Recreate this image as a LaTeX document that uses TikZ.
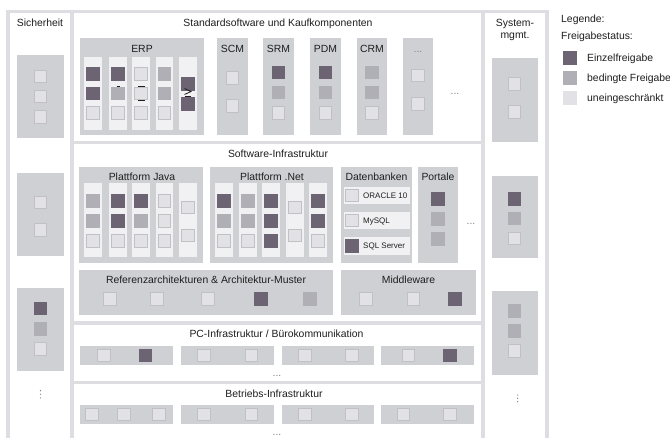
\documentclass[tikz,border=0pt]{standalone}
\usepackage{fontspec}
\setmainfont{Liberation Sans}
\definecolor{frm}{RGB}{221,221,226}
\definecolor{boxc}{RGB}{207,208,212}
\definecolor{colc}{RGB}{241,241,243}
\definecolor{dk}{RGB}{108,100,114}
\definecolor{md}{RGB}{176,175,181}
\definecolor{lt}{RGB}{226,226,230}
\definecolor{ltb}{RGB}{192,192,197}
\definecolor{tx}{RGB}{30,30,30}
\definecolor{dotc}{RGB}{130,130,135}
\tikzset{
  txt/.style={font=\fontsize{10.4}{12}\selectfont, text=tx, inner sep=0, anchor=base},
  smt/.style={font=\fontsize{8}{9}\selectfont, text=tx, inner sep=0, anchor=base west},
  dots/.style={font=\fontsize{10.4}{12}\selectfont, text=dotc, inner sep=0, anchor=base},
  qd/.style={fill=dk, draw=none, inner sep=0, minimum size=13.5pt},
  qm/.style={fill=md, draw=none, inner sep=0, minimum size=13.5pt},
  ql/.style={fill=lt, draw=ltb, line width=0.8pt, inner sep=0, minimum size=12.7pt},
  boxf/.style={fill=boxc},
  colf/.style={fill=colc},
  vdot/.style={circle, fill=dotc, inner sep=0, minimum size=1.4pt},
  artf/.style={draw=tx, line width=0.8pt}
}
\begin{document}
\begin{tikzpicture}[x=1pt,y=-1pt]
\useasboundingbox (0,0) rectangle (670,438);
\fill[white] (0,0) rectangle (670,438);
% frame and panels
\fill[frm] (6,10) rectangle (549,438);
\fill[white] (10,13) rectangle (70,438);
\fill[white] (74,13) rectangle (481,141);
\fill[white] (74,144) rectangle (481,321);
\fill[white] (74,325) rectangle (481,381);
\fill[white] (74,384) rectangle (481,438);
\fill[white] (485,13) rectangle (545,438);

% titles
\node[txt] (tsich) at (40,27) {Sicherheit};
\node[txt] (tstd) at (278,27) {Standardsoftware und Kaufkomponenten};
\node[txt] (tsys1) at (515,27) {System-};
\node[txt] (tsys2) at (515,39) {mgmt.};
\node[txt] (tsw) at (278,157.5) {Software-Infrastruktur};
\node[txt] (tpc) at (276.5,337.5) {PC-Infrastruktur / Bürokommunikation};
\node[txt] (tbe) at (274,397.5) {Betriebs-Infrastruktur};

% Sicherheit column
\fill[boxf] (17,55) rectangle (64,138);
\fill[boxf] (17,173) rectangle (64,256);
\fill[boxf] (17,288) rectangle (64,371);
\foreach \yy/\ss [count=\k] in {76.5/ql,96.5/ql,117/ql,202.5/ql,230/ql,308.7/qd,329/qm,349/ql}
  \node[\ss] (sich\k) at (40.5,\yy) {};
\foreach \yy [count=\k] in {390.7,394.3,398}
  \node[vdot] (sichv\k) at (40.5,\yy) {};

% Systemmgmt column
\fill[boxf] (492,58) rectangle (538,142);
\fill[boxf] (492,176) rectangle (538,258);
\fill[boxf] (492,291) rectangle (538,375);
\foreach \yy/\ss [count=\k] in {84/ql,112/ql,199/qd,218.5/qm,238.5/ql,311/qm,331/qm,351/ql}
  \node[\ss] (sys\k) at (514.5,\yy) {};
\foreach \yy [count=\k] in {395,398.3,401.7}
  \node[vdot] (sysv\k) at (517.7,\yy) {};

% ERP
\fill[boxf] (80,38) rectangle (204,135);
\node[txt] (terp) at (142,52.7) {ERP};
\foreach \xa/\xb in {84/102,109/127,132/150,156/173,179/197}
  \fill[colf] (\xa,57) rectangle (\xb,130);
\foreach \yy/\ss [count=\k] in {74/qd,93.5/qd,113/ql}
  \node[\ss] (erpa\k) at (93,\yy) {};
\foreach \yy/\ss [count=\k] in {74/qd,93.5/qm,113/ql}
  \node[\ss] (erpb\k) at (118,\yy) {};
\foreach \yy/\ss [count=\k] in {74/ql,93.5/ql,113/ql}
  \node[\ss] (erpc\k) at (141,\yy) {};
\foreach \yy/\ss [count=\k] in {74/qm,93.5/qm,113/ql}
  \node[\ss] (erpd\k) at (164.5,\yy) {};
\foreach \yy/\ss [count=\k] in {84/qd,104/qd}
  \node[\ss] (erpe\k) at (188,\yy) {};
% small marks visible in the ERP columns
\draw[artf] (116.5,86) -- (119.5,86);
\draw[artf] (138,86.3) -- (144.5,86.3);
\draw[artf] (138,100.7) -- (144.5,100.7);
\draw[artf] (184.5,88.5) -- (191,91.5) -- (184.5,94.5);
\draw[artf] (184.5,96.5) -- (191,96.5);

% SCM, SRM, PDM, CRM, ...
\fill[boxf] (217,38) rectangle (248,135);
\node[txt] (tscm) at (232.5,52.7) {SCM};
\node[ql] (scm1) at (232.5,78) {};
\node[ql] (scm2) at (232.5,106) {};

\fill[boxf] (263,38) rectangle (294,135);
\node[txt] (tsrm) at (278.5,52.7) {SRM};
\foreach \yy/\ss [count=\k] in {72.5/qd,92.5/qm,113/ql}
  \node[\ss] (srm\k) at (278.5,\yy) {};

\fill[boxf] (310,38) rectangle (341,135);
\node[txt] (tpdm) at (325.5,52.7) {PDM};
\foreach \yy/\ss [count=\k] in {72.5/qd,92.5/qm,113/ql}
  \node[\ss] (pdm\k) at (325.5,\yy) {};

\fill[boxf] (357,38) rectangle (387,135);
\node[txt] (tcrm) at (372,52.7) {CRM};
\foreach \yy/\ss [count=\k] in {72.5/qm,92.5/qm,113/ql}
  \node[\ss] (crm\k) at (372,\yy) {};

\fill[boxf] (403,38) rectangle (433,135);
\node[dots] (tmore) at (418,52.7) {...};
\node[ql] (more1) at (418,75.5) {};
\node[ql] (more2) at (418,104) {};
\node[dots] (stdmore) at (455,95) {...};

% Plattform Java
\fill[boxf] (79,167) rectangle (203,263);
\node[txt] (tjava) at (142,180.5) {Plattform Java};
\foreach \xa/\xb in {84/102,109/127,132/150,156/173,179/197}
  \fill[colf] (\xa,183) rectangle (\xb,257);
\foreach \yy/\ss [count=\k] in {201/qm,221/qm,241/ql}
  \node[\ss] (jva\k) at (93,\yy) {};
\foreach \yy/\ss [count=\k] in {201/qd,221/qd,241/ql}
  \node[\ss] (jvb\k) at (118,\yy) {};
\foreach \yy/\ss [count=\k] in {201/qd,221/qm,241/ql}
  \node[\ss] (jvc\k) at (141,\yy) {};
\foreach \yy/\ss [count=\k] in {201/ql,221/ql,241/ql}
  \node[\ss] (jvd\k) at (164.5,\yy) {};
\foreach \yy/\ss [count=\k] in {207.5/ql,235.5/ql}
  \node[\ss] (jve\k) at (188,\yy) {};

% Plattform .Net
\fill[boxf] (210,167) rectangle (333,263);
\node[txt] (tnet) at (272,180.5) {Plattform .Net};
\foreach \xa/\xb in {215/233,239/257,262/280,286/304,309/327}
  \fill[colf] (\xa,183) rectangle (\xb,257);
\foreach \yy/\ss [count=\k] in {201/qd,221/qm,241/ql}
  \node[\ss] (nta\k) at (224,\yy) {};
\foreach \yy/\ss [count=\k] in {201/qm,221/qm,241/ql}
  \node[\ss] (ntb\k) at (248,\yy) {};
\foreach \yy/\ss [count=\k] in {201/qd,221/qd,241/qd}
  \node[\ss] (ntc\k) at (271,\yy) {};
\foreach \yy/\ss [count=\k] in {207.5/ql,235.5/ql}
  \node[\ss] (ntd\k) at (295,\yy) {};
\foreach \yy/\ss [count=\k] in {201/qd,221/qd,241/ql}
  \node[\ss] (nte\k) at (318,\yy) {};

% Datenbanken
\fill[boxf] (341,167) rectangle (412,263);
\node[txt] (tdb) at (376.5,180.5) {Datenbanken};
\fill[colf] (344,186.7) rectangle (410,204);
\fill[colf] (344,211.7) rectangle (410,229.3);
\fill[colf] (344,236.7) rectangle (410,255);
\node[ql] (db1) at (352,195.3) {};
\node[ql] (db2) at (352,220.5) {};
\node[qd] (db3) at (352,245.8) {};
\node[smt] (ldb1) at (363,198.2) {ORACLE 10};
\node[smt] (ldb2) at (363,223.4) {MySQL};
\node[smt] (ldb3) at (363,248.7) {SQL Server};

% Portale
\fill[boxf] (418,167) rectangle (458,263);
\node[txt] (tport) at (438,180.5) {Portale};
\foreach \yy/\ss [count=\k] in {199/qd,219/qm,239/qm}
  \node[\ss] (port\k) at (438,\yy) {};
\node[dots] (swmore) at (471,225) {...};

% Referenzarchitekturen
\fill[boxf] (79,270) rectangle (333,315);
\node[txt] (tref) at (206,283.5) {Referenzarchitekturen \& Architektur-Muster};
\foreach \xx/\ss [count=\k] in {110/ql,157/ql,208/ql,261/qd,310/qm}
  \node[\ss] (ref\k) at (\xx,299) {};

% Middleware
\fill[boxf] (341,270) rectangle (476,315);
\node[txt] (tmid) at (408.5,283.5) {Middleware};
\foreach \xx/\ss [count=\k] in {366/ql,413.5/ql,455/qd}
  \node[\ss] (mid\k) at (\xx,299) {};

% PC-Infrastruktur
\foreach \xa/\xb in {80/173,181/274,282/374,381/474}
  \fill[boxf] (\xa,346) rectangle (\xb,365);
\foreach \xx/\ss [count=\k] in {104/ql,145.5/qd,204/ql,251.5/ql,305/ql,352/ql,408.5/ql,450/qd}
  \node[\ss] (pc\k) at (\xx,355.5) {};
\node[dots] (pcmore) at (277,377) {...};

% Betriebs-Infrastruktur
\foreach \xa/\xb in {80/173,181/274,282/374,381/474}
  \fill[boxf] (\xa,405) rectangle (\xb,424);
\foreach \xx [count=\k] in {92,124,159,204,251.5,305,352,403.5,450}
  \node[ql] (be\k) at (\xx,414.5) {};
\node[dots] (bemore) at (277,436) {...};

% Legend
\node[txt, anchor=base west] (leg1) at (561,22.5) {Legende:};
\node[txt, anchor=base west] (leg2) at (561,39.5) {Freigabestatus:};
\node[qd, minimum size=14pt] (lq1) at (569.5,58) {};
\node[qm, minimum size=14pt] (lq2) at (569.5,78) {};
\node[fill=lt, inner sep=0, minimum size=14pt] (lq3) at (569.5,98) {};
\node[txt, anchor=base west] (ll1) at (587,61.7) {Einzelfreigabe};
\node[txt, anchor=base west] (ll2) at (587,81.7) {bedingte Freigabe};
\node[txt, anchor=base west] (ll3) at (587,101.7) {uneingeschränkt};
\end{tikzpicture}
\end{document}
